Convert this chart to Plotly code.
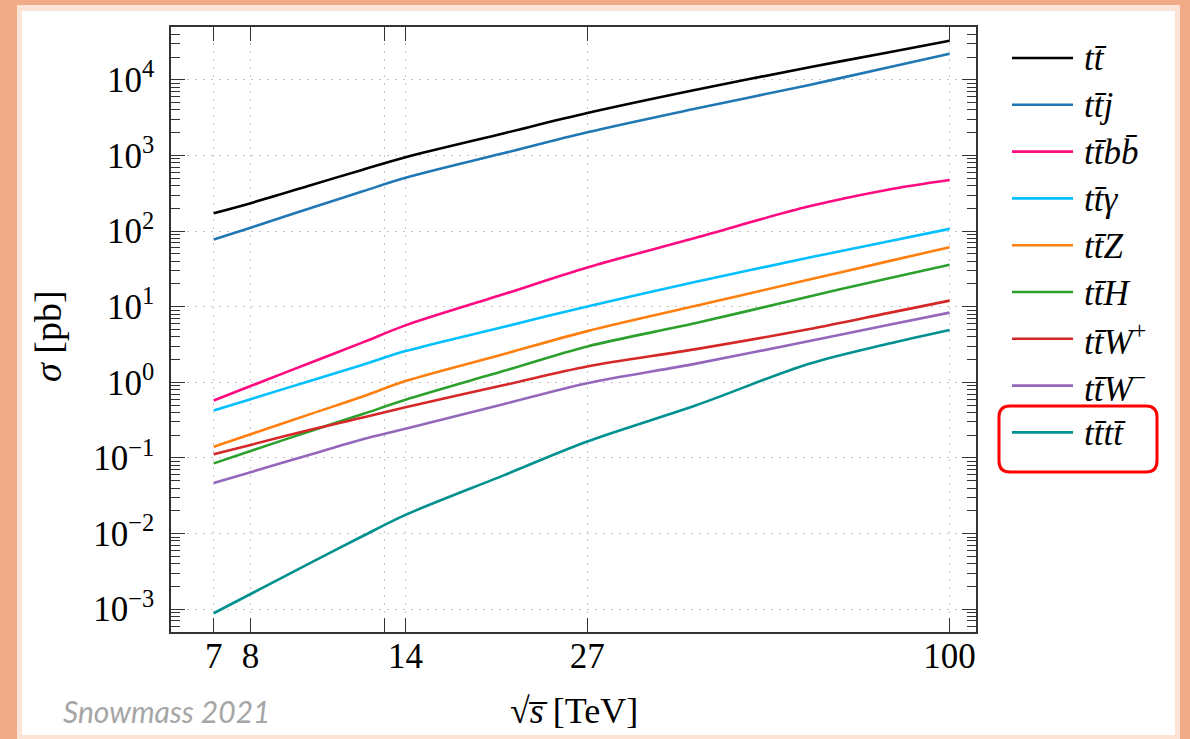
import plotly.graph_objects as go

# Centre-of-mass energies (TeV) at which the cross sections are sampled
sqrt_s = [7, 8, 10, 12, 14, 20, 27, 40, 60, 80, 100]

# Cross sections in pb
sigma_tt = [172, 234, 411, 650, 950, 1973, 3640, 7390, 14560, 23060, 32900]
sigma_ttj = [77.5, 111, 205, 336, 506, 1075, 2028, 4180, 8510, 14590, 22100]
sigma_ttbb = [0.575, 0.893, 1.86, 3.38, 5.67, 14.7, 33.0, 82, 211, 353, 473]
sigma_ttgamma = [0.424, 0.600, 1.07, 1.71, 2.59, 5.43, 10.1, 21.4, 44.4, 73.1, 107]
sigma_ttZ = [0.141, 0.206, 0.389, 0.650, 1.04, 2.37, 4.76, 10.3, 22.7, 39.8, 61.3]
sigma_ttH = [0.0849, 0.124, 0.231, 0.381, 0.588, 1.42, 2.99, 6.08, 13.6, 23.6, 35.8]
sigma_ttWp = [0.112, 0.149, 0.240, 0.343, 0.469, 0.920, 1.62, 2.75, 5.03, 8.23, 12.05]
sigma_ttWm = [0.0467, 0.0649, 0.113, 0.177, 0.243, 0.518, 0.975, 1.77, 3.50, 5.74, 8.36]
sigma_tttt = [0.000885, 0.00159, 0.00424, 0.00929, 0.0177, 0.0594, 0.165, 0.497, 1.75, 3.23, 4.94]

process_labels = [
    "<i>tt\u0304</i>",
    "<i>tt\u0304j</i>",
    "<i>tt\u0304bb\u0304</i>",
    "<i>tt\u0304\u03b3</i>",
    "<i>tt\u0304Z</i>",
    "<i>tt\u0304H</i>",
    "<i>tt\u0304W</i><sup>+</sup>",
    "<i>tt\u0304W</i><sup>\u2212</sup>",
    "<i>tt\u0304tt\u0304</i>",
]
series = [sigma_tt, sigma_ttj, sigma_ttbb, sigma_ttgamma, sigma_ttZ,
          sigma_ttH, sigma_ttWp, sigma_ttWm, sigma_tttt]
colors = ["#000000", "#1f77b4", "#ff0a80", "#00bfff", "#ff7f0e",
          "#2ca02c", "#d62728", "#9467bd", "#009090"]

x_tickvals = [7, 8, 13, 14, 27, 100]
x_ticktext = ["7", "8", "", "14", "27", "100"]

y_exponents = [-3, -2, -1, 0, 1, 2, 3, 4]
y_tickvals = [10.0 ** e for e in y_exponents]
y_ticktext = [f"10<sup>{'\u2212' if e < 0 else ''}{abs(e)}</sup>" for e in y_exponents]
y_minorvals = [k * 10.0 ** e for e in range(-4, 5) for k in range(2, 10)]

W, H = 1190, 739
L, R, T, B = 171, 976, 27, 632
SERIF = "Liberation Serif"
AXIS_COLOR = "#333333"

fig = go.Figure()
for ys, name, col in zip(series, process_labels, colors):
    fig.add_trace(go.Scatter(x=sqrt_s, y=ys, mode="lines", name=name,
                             line=dict(color=col, width=2.6, shape="spline",
                                       smoothing=0.9)))


def px_to_paper(px, py):
    return (px - L) / (R - L), (B - py) / (B - T)


def rounded_rect(x0, y0, x1, y1, r):
    def p(x, y):
        a, b = px_to_paper(x, y)
        return f"{a:.5f},{b:.5f}"
    return " ".join([
        "M" + p(x0 + r, y0), "L" + p(x1 - r, y0),
        "Q" + p(x1, y0) + " " + p(x1, y0 + r), "L" + p(x1, y1 - r),
        "Q" + p(x1, y1) + " " + p(x1 - r, y1), "L" + p(x0 + r, y1),
        "Q" + p(x0, y1) + " " + p(x0, y1 - r), "L" + p(x0, y0 + r),
        "Q" + p(x0, y0) + " " + p(x0 + r, y0),
    ]) + " Z"


def paper_rect(x0, y0, x1, y1, color):
    a0, b1 = px_to_paper(x0, y0)
    a1, b0 = px_to_paper(x1, y1)
    return dict(type="rect", xref="paper", yref="paper", x0=a0, x1=a1,
                y0=b0, y1=b1, fillcolor=color, line=dict(width=0), layer="below")


def paper_text(text, px, py, size, family=SERIF, color="#000000", **kw):
    a, b = px_to_paper(px, py)
    return dict(text=text, xref="paper", yref="paper", x=a, y=b,
                showarrow=False, font=dict(family=family, size=size, color=color),
                **kw)


shapes = [
    paper_rect(17, 5, 1180, 745, "#fbe3d6"),
    paper_rect(22, 11, 1175, 735, "#ffffff"),
]
annotations = [
    paper_text("<i>\u03c3</i> [pb]", 48, 336, 38, textangle=-90,
               xanchor="center", yanchor="middle"),
    paper_text("\u221a<i>s\u0305</i> [TeV]", 574, 711, 36,
               xanchor="center", yanchor="middle"),
    paper_text("<i>Snowmass 2021</i>", 166, 711, 30, family="Lato",
               color="#a6a6a6", xanchor="center", yanchor="middle"),
]

# Legend: line sample plus label for each process
leg_top, leg_step = 58, 46.8
for i, (name, col) in enumerate(zip(process_labels, colors)):
    yy = leg_top + i * leg_step
    a0, b = px_to_paper(1012, yy)
    a1, _ = px_to_paper(1073, yy)
    shapes.append(dict(type="line", xref="paper", yref="paper", x0=a0, x1=a1,
                       y0=b, y1=b, line=dict(color=col, width=2.6)))
    annotations.append(paper_text(name, 1082, yy + 1, 35,
                                  xanchor="left", yanchor="middle"))

# Highlight box around the four-top entry
shapes.append(dict(type="path", xref="paper", yref="paper",
                   path=rounded_rect(999, 406, 1157, 472, 11),
                   line=dict(color="#ff0000", width=3)))

axis_common = dict(
    type="log", showline=True, linecolor=AXIS_COLOR, linewidth=1.5,
    mirror="allticks", ticks="inside", tickcolor=AXIS_COLOR, tickwidth=1.2,
    showgrid=True, gridcolor="#c4c4c4", griddash="2px,6px", gridwidth=1.2,
    zeroline=False, tickfont=dict(family=SERIF, size=35, color="#000000"),
    tickmode="array",
)

fig.update_layout(
    width=W, height=H,
    margin=dict(l=L, r=W - R, t=T, b=H - B),
    paper_bgcolor="#f1ab86",
    plot_bgcolor="rgba(0,0,0,0)",
    shapes=shapes,
    annotations=annotations,
    showlegend=False,
    xaxis=dict(axis_common, range=[0.77815, 2.04139], tickvals=x_tickvals,
               ticktext=x_ticktext, ticklen=14, ticklabelstandoff=-8),
    yaxis=dict(axis_common, range=[-3.30103, 4.69897], tickvals=y_tickvals,
               ticktext=y_ticktext, ticklen=14, ticklabelstandoff=8,
               minor=dict(ticks="inside", ticklen=9, tickmode="array",
                          tickvals=y_minorvals, tickcolor=AXIS_COLOR,
                          tickwidth=1.2, showgrid=False)),
)

fig.write_html("out.html")
